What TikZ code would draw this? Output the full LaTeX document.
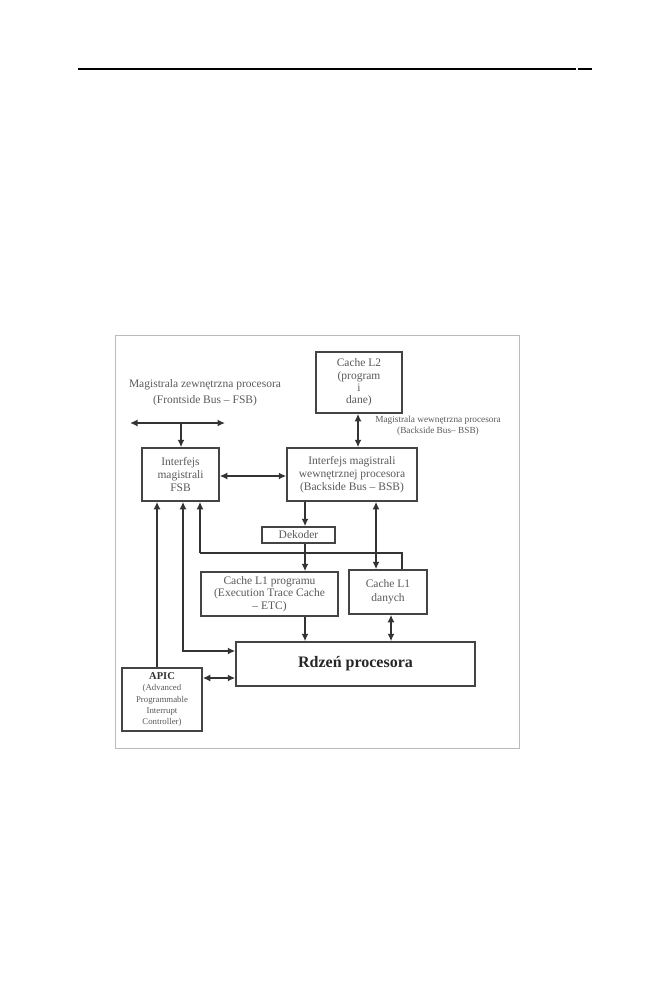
\documentclass[tikz,border=0pt]{standalone}
\usepackage{fontspec}
\setmainfont{Liberation Serif}
\usetikzlibrary{arrows.meta}
\definecolor{linec}{HTML}{333333}
\definecolor{boxc}{HTML}{444444}
\definecolor{txtc}{HTML}{5A5A5A}
\definecolor{framec}{HTML}{BBBBBB}
\tikzset{
  blk/.style={draw=boxc, line width=1.5pt, fill=white, inner sep=0pt, align=center,
    text=txtc, font=\fontsize{11.5}{13.3}\selectfont},
  lbl/.style={inner sep=0pt, align=center, text=txtc},
  arr/.style={draw=linec, line width=2.2pt, -{Latex[length=7.5pt,width=7pt]}},
  dbl/.style={draw=linec, line width=2.2pt, {Latex[length=7.5pt,width=7pt]}-{Latex[length=7.5pt,width=7pt]}},
  plain/.style={draw=linec, line width=2.2pt}
}
\begin{document}
\begin{tikzpicture}[x=1pt,y=-1pt]
\useasboundingbox (0,0) rectangle (654,998);
% page rule
\draw[line width=1.1pt, black] (78,69) -- (576,69);
\draw[line width=1.1pt, black] (577.5,69) -- (592,69);
% frame
\draw[framec, line width=0.9pt] (115,335) rectangle (519,748);

% helper coordinates
\coordinate (busL) at (130,423);
\coordinate (busR) at (225,423);
\coordinate (busJ) at (181,423);
\coordinate (cx) at (305,0);
\coordinate (dx) at (376,0);
\coordinate (ex) at (391,0);
\coordinate (a1) at (157,0);
\coordinate (c2) at (183,651);
\coordinate (c3) at (200,553);
\coordinate (c4) at (402,553);
\coordinate (c5) at (0,678);
\coordinate (c6) at (0,476);
\coordinate (c7) at (358,0);

% boxes
\node[blk, minimum width=77pt, minimum height=53pt] (fsb) at (180.5,474.5) {Interfejs\\magistrali\\FSB};
\node[blk, minimum width=130pt, minimum height=53pt] (bsb) at (352,474.5) {Interfejs magistrali\\wewnętrznej procesora\\(Backside Bus -- BSB)};
\node[blk, minimum width=86pt, minimum height=61pt, font=\fontsize{11.5}{12.2}\selectfont] (l2) at (359,382.5) {Cache L2\\(program\\i\\dane)};
\node[blk, minimum width=73pt, minimum height=16pt] (dek) at (298.5,535) {Dekoder};
\node[blk, minimum width=137pt, minimum height=44pt, font=\fontsize{11.5}{12.5}\selectfont] (l1p) at (269.5,594) {Cache L1 programu\\(Execution Trace Cache\\-- ETC)};
\node[blk, minimum width=78pt, minimum height=44pt, font=\fontsize{11.5}{14}\selectfont] (l1d) at (388,592) {Cache L1\\danych};
\node[blk, minimum width=239pt, minimum height=44pt, text=black!85, font=\fontsize{16}{18}\selectfont\bfseries] (core) at (355.5,664) {Rdzeń procesora};
\node[blk, minimum width=80pt, minimum height=63pt, font=\fontsize{8.8}{11.3}\selectfont] (apic) at (162,699.5) {{\fontsize{10.5}{11}\selectfont\bfseries\color{black!80}APIC}\\(Advanced\\Programmable\\Interrupt\\Controller)};

% labels
\node[lbl, font=\fontsize{11.5}{16}\selectfont] (fsblbl) at (205,393) {Magistrala zewnętrzna procesora\\(Frontside Bus -- FSB)};
\node[lbl, font=\fontsize{9.3}{10.5}\selectfont] (bsblbl) at (438,426) {Magistrala wewnętrzna procesora\\(Backside Bus-- BSB)};

% connectors
\draw[dbl] (busL) -- (busR);
\draw[arr] (busJ) -- (busJ |- fsb.north);
\draw[dbl] (fsb.east |- c6) -- (bsb.west |- c6);
\draw[dbl] (l2.south -| c7) -- (bsb.north -| c7);
\draw[arr] (bsb.south -| cx) -- (dek.north -| cx);
\draw[plain] (l1d.north -| c4) -- (c4) -- (c3);
\draw[arr] (c3) -- (fsb.south -| c3);
\draw[arr] (dek.south -| cx) -- (l1p.north -| cx);
\draw[arr] (l1p.south -| cx) -- (core.north -| cx);
\draw[dbl] (bsb.south -| dx) -- (l1d.north -| dx);
\draw[dbl] (l1d.south -| ex) -- (core.north -| ex);
\draw[arr] (apic.north -| a1) -- (fsb.south -| a1);
\draw[dbl] (fsb.south -| c2) -- (c2) -- (c2 -| core.west);
\draw[dbl] (apic.east |- c5) -- (core.west |- c5);
\end{tikzpicture}
\end{document}
